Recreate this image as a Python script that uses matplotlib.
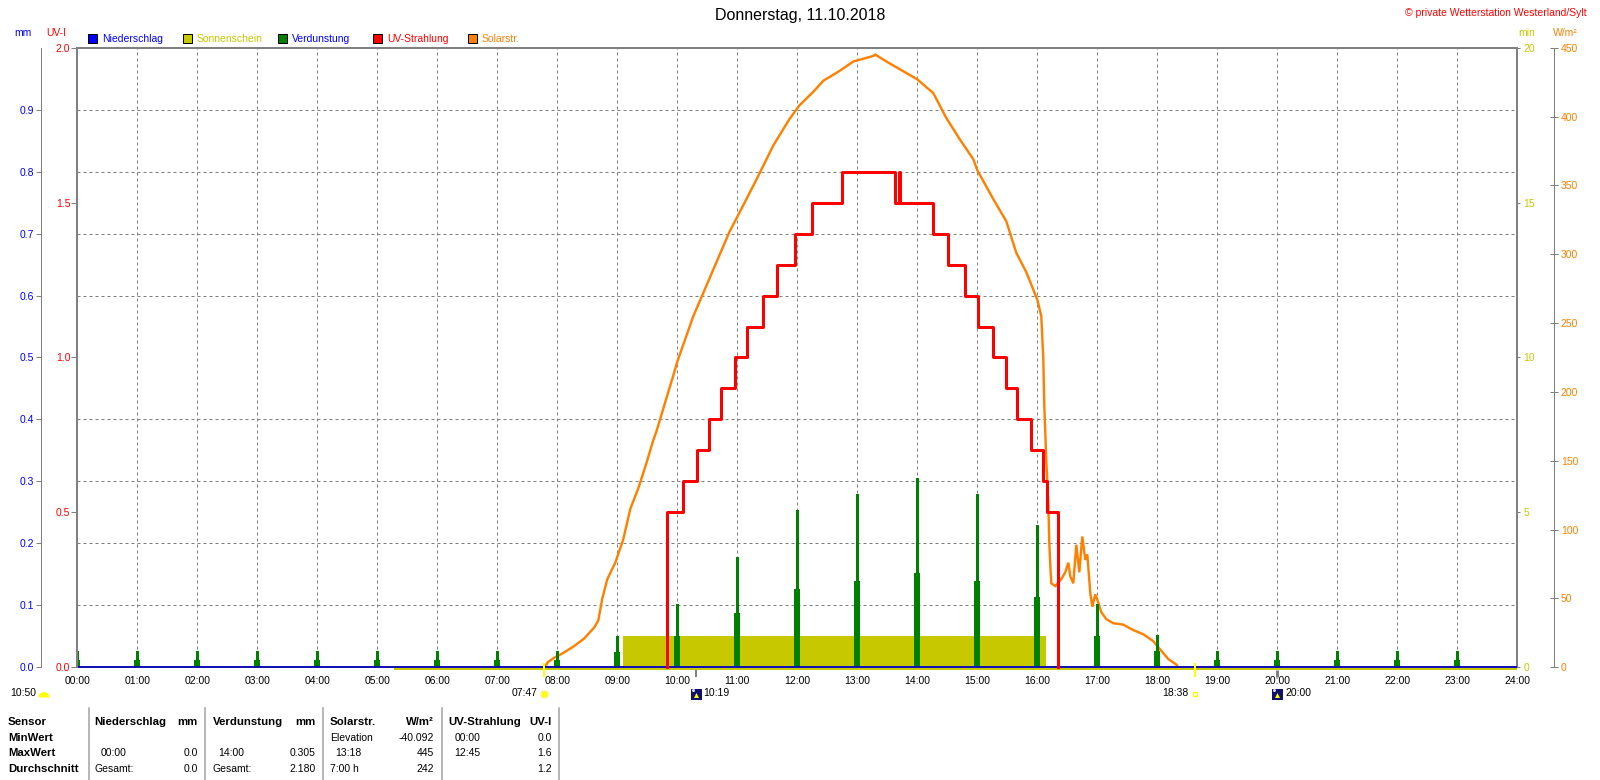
import matplotlib
matplotlib.use('Agg')
import matplotlib.pyplot as plt
import matplotlib.transforms as mtransforms
from matplotlib.patches import Rectangle, Wedge
from matplotlib.lines import Line2D
from matplotlib.ticker import MultipleLocator, FixedLocator, FormatStrFormatter

plt.rcParams['font.family'] = ['Liberation Sans', 'DejaVu Sans']

# ---------------- data ----------------
title = "Donnerstag, 11.10.2018"
copyright_text = "© private Wetterstation Westerland/Sylt"

hour_ticks = list(range(25))
hour_labels = ["%02d:00" % h for h in hour_ticks]

# Verdunstung (mm), hourly spikes: tall thin part and wider lower part
verd_hours = list(range(24))
verd_peak = [0.026, 0.026, 0.026, 0.026, 0.026, 0.026, 0.026, 0.026, 0.026, 0.051,
             0.102, 0.178, 0.254, 0.280, 0.305, 0.280, 0.229, 0.102, 0.052, 0.026,
             0.026, 0.026, 0.026, 0.026]
verd_base = [0.012, 0.012, 0.012, 0.012, 0.012, 0.012, 0.012, 0.012, 0.012, 0.025,
             0.051, 0.088, 0.126, 0.140, 0.152, 0.140, 0.114, 0.051, 0.026, 0.012,
             0.012, 0.012, 0.012, 0.012]

# Niederschlag (mm)
rain_t = ["00:00", "24:00"]
rain_v = [0.0, 0.0]

# Sonnenschein (min)
sun_line_t = ["05:17", "24:00"]
sun_line_v = [0.0, 0.0]
sun_block_start = "09:06"
sun_block_end = "16:09"
sun_block_value = 1.0

# UV-Strahlung (UV-I), step series
uv_t = ["09:50", "09:50", "10:06", "10:20", "10:32", "10:44", "10:58", "11:10", "11:26",
        "11:40", "11:58", "12:15", "12:45", "13:38", "13:42", "13:43", "14:16", "14:31",
        "14:48", "15:01", "15:16", "15:29", "15:40", "15:54", "16:06", "16:10", "16:21"]
uv_v = [0.0, 0.5, 0.6, 0.7, 0.8, 0.9, 1.0, 1.1, 1.2,
        1.3, 1.4, 1.5, 1.6, 1.5, 1.6, 1.5, 1.4, 1.3,
        1.2, 1.1, 1.0, 0.9, 0.8, 0.7, 0.6, 0.5, 0.0]

# Solarstrahlung (W/m²)
solar_t = ["07:47", "07:51", "07:57", "08:05", "08:16", "08:27", "08:37", "08:41", "08:45",
           "08:50", "08:58", "09:06", "09:13", "09:21", "09:29", "09:36", "09:39", "09:56",
           "10:00", "10:16", "10:29", "10:52", "11:02", "11:19", "11:36", "11:52", "12:02",
           "12:16", "12:26", "12:42", "12:56", "13:16", "13:18", "13:29", "13:41", "14:00",
           "14:16", "14:29", "14:42", "14:56", "15:00", "15:16", "15:29", "15:39", "15:49",
           "16:00", "16:04", "16:06", "16:07", "16:09", "16:11", "16:12", "16:13", "16:14",
           "16:18", "16:24", "16:28", "16:31", "16:33", "16:36", "16:39", "16:42", "16:45",
           "16:48", "16:50", "16:53", "16:55", "16:58", "17:01", "17:04", "17:09", "17:16",
           "17:26", "17:36", "17:46", "17:56", "18:04", "18:11", "18:19", "18:21"]
solar_v = [0, 4, 7, 10, 15, 21, 29, 34, 50,
           64, 76, 93, 115, 130, 148, 165, 171, 212,
           222, 255, 277, 316, 330, 354, 379, 398, 408,
           418, 426, 433, 440, 444, 445, 440, 435, 427,
           417, 399, 384, 369, 361, 340, 324, 301, 287,
           267, 255, 224, 190, 150, 120, 90, 74, 61,
           59, 64, 69, 76, 66, 61, 89, 69, 95,
           78, 82, 54, 44, 53, 47, 40, 35, 32,
           31, 27, 24, 19, 12, 6, 2, 0]

# astronomical events
sunrise, sunset = "07:47", "18:38"
moonrise, moonset = "10:19", "20:00"
day_length = "10:50"

legend_items = [("Niederschlag", "#0000FF", "#0000FF"),
                ("Sonnenschein", "#C8C800", "#C8C800"),
                ("Verdunstung", "#008000", "#0000FF"),
                ("UV-Strahlung", "#FF0000", "#FF0000"),
                ("Solarstr.", "#FF8000", "#FF8000")]

table_header = ["Sensor", "Niederschlag", "mm", "Verdunstung", "mm", "Solarstr.", "W/m²",
                "UV-Strahlung", "UV-I"]
table_rows = ["MinWert", "MaxWert", "Durchschnitt"]
table_rain = [("", ""), ("00:00", "0.0"), ("Gesamt:", "0.0")]
table_evap = [("", ""), ("14:00", "0.305"), ("Gesamt:", "2.180")]
table_solar = [("Elevation", "-40.092"), ("13:18", "445"), ("7:00 h", "242")]
table_uv = [("00:00", "0.0"), ("12:45", "1.6"), ("", "1.2")]


def hm(s):
    h, m = s.split(':')
    return int(h) + int(m) / 60.0


# ---------------- figure ----------------
W, H = 1600, 780
fig = plt.figure(figsize=(W / 100, H / 100), dpi=100)
fig.patch.set_facecolor('white')

L, R, T, B = 77.3, 1517.3, 47.7, 667.3
ax_min = fig.add_axes([L / W, 1 - B / H, (R - L) / W, (B - T) / H])
ax_w = ax_min.twinx()
ax_mm = ax_min.twinx()
ax_uv = ax_min.twinx()
ax_min.set_zorder(1)
ax_w.set_zorder(2)
ax_mm.set_zorder(3)
ax_uv.set_zorder(4)
for a in (ax_w, ax_mm, ax_uv):
    a.patch.set_visible(False)

GRAY = '#808080'
FS = 7.5
PX = 0.72  # points per pixel

ax_min.set_xlim(0, 24)
ax_min.set_ylim(0, 20)
ax_w.set_ylim(0, 450)
ax_mm.set_ylim(0, 1.0)
ax_uv.set_ylim(0, 2.0)

# spines
for a in (ax_min, ax_w, ax_mm, ax_uv):
    for s in a.spines.values():
        s.set_visible(False)
for k in ('right', 'bottom', 'top'):
    ax_min.spines[k].set_visible(True)
    ax_min.spines[k].set_color(GRAY)
    ax_min.spines[k].set_linewidth(2 * PX)
ax_uv.spines['left'].set_visible(True)
ax_uv.spines['left'].set_color(GRAY)
ax_uv.spines['left'].set_linewidth(2 * PX)

ax_mm.spines['left'].set_visible(True)
ax_mm.spines['left'].set_position(('outward', (L - 40.7) * PX))
ax_mm.spines['left'].set_color(GRAY)
ax_mm.spines['left'].set_linewidth(1 * PX)

ax_w.spines['right'].set_visible(True)
ax_w.spines['right'].set_position(('outward', (1554 - R) * PX))
ax_w.spines['right'].set_color(GRAY)
ax_w.spines['right'].set_linewidth(1 * PX)

# grid (on lowest axes)
ax_min.xaxis.set_major_locator(FixedLocator(hour_ticks))
ax_min.set_xticklabels(hour_labels)
ax_min.tick_params(axis='x', length=0, pad=6.5, labelsize=FS, colors='black')
ax_min.yaxis.set_minor_locator(MultipleLocator(2))
ax_min.grid(True, which='major', axis='x', color=GRAY, lw=1 * PX, linestyle=(0, (3, 3)))
ax_min.grid(True, which='minor', axis='y', color=GRAY, lw=1 * PX, linestyle=(0, (3, 3)))
ax_min.set_axisbelow(True)

# y axes ticks
ax_min.yaxis.tick_right()
ax_min.set_yticks([0, 5, 10, 15, 20])
ax_min.yaxis.set_major_formatter(FormatStrFormatter('%d'))
ax_min.tick_params(axis='y', which='major', direction='out', length=3 * PX, pad=3 * PX,
                   color=GRAY, labelcolor='#C8C800', labelsize=FS, width=1 * PX)
ax_min.tick_params(axis='y', which='minor', length=0)

ax_w.yaxis.tick_right()
ax_w.set_yticks(list(range(0, 451, 50)))
ax_w.yaxis.set_major_formatter(FormatStrFormatter('%d'))
ax_w.tick_params(axis='y', direction='inout', length=7.5 * PX, pad=3 * PX, color=GRAY,
                 labelcolor='#FF8000', labelsize=FS, width=1 * PX)

ax_mm.yaxis.tick_left()
ax_mm.set_yticks([0.0, 0.1, 0.2, 0.3, 0.4, 0.5, 0.6, 0.7, 0.8, 0.9])
ax_mm.yaxis.set_major_formatter(FormatStrFormatter('%.1f'))
ax_mm.tick_params(axis='y', direction='out', length=4.7 * PX, pad=2 * PX, color=GRAY,
                  labelcolor='#0000FF', labelsize=FS, width=1 * PX)

ax_uv.yaxis.tick_left()
ax_uv.set_yticks([0.0, 0.5, 1.0, 1.5, 2.0])
ax_uv.yaxis.set_major_formatter(FormatStrFormatter('%.1f'))
ax_uv.tick_params(axis='y', direction='out', length=6.3 * PX, pad=0.5, color=GRAY,
                  labelcolor='#FF0000', labelsize=FS, width=1 * PX)

for a in (ax_w, ax_mm, ax_uv):
    a.xaxis.set_visible(False)

# ---------------- data marks ----------------
# Sonnenschein
s0, s1 = hm(sun_block_start), hm(sun_block_end)
ax_min.bar([s0], [sun_block_value], width=[s1 - s0], align='edge', color='#C8C800',
           linewidth=0, zorder=2)
yoff = mtransforms.offset_copy(ax_min.transData, fig=fig, x=0, y=-1.9, units='dots')
ax_min.plot([hm(t) for t in sun_line_t], sun_line_v, color='#C8C800', lw=2 * PX,
            transform=yoff, clip_on=False, zorder=3, solid_capstyle='butt')

# Solarstrahlung
ax_w.plot([hm(t) for t in solar_t], solar_v, color='#FF8000', lw=2.4 * PX, zorder=3,
          solid_joinstyle='miter')

# Verdunstung
ax_mm.bar(verd_hours, verd_base, width=0.1, color='#008000', linewidth=0, zorder=2)
ax_mm.bar(verd_hours, verd_peak, width=0.055, color='#008000', linewidth=0, zorder=2)

# Niederschlag
ax_mm.plot([hm(t) for t in rain_t], rain_v, color='#0000C0', lw=1.7 * PX, clip_on=False,
           zorder=5, solid_capstyle='butt')

# UV-Strahlung
ax_uv.plot([hm(t) for t in uv_t], uv_v, color='#FF0000', lw=3 * PX, drawstyle='steps-post',
           zorder=3, clip_on=False)

# ---------------- events below axis ----------------
tr = mtransforms.blended_transform_factory(ax_uv.transData, fig.transFigure)


def fy(y):
    return 1 - y / H


for t in (sunrise, sunset):
    ax_uv.plot([hm(t), hm(t)], [fy(663), fy(677)], color='#FFFF00', lw=2 * PX,
               transform=tr, clip_on=False, zorder=10, solid_capstyle='butt')
for t, w in ((moonrise, 2), (moonset, 3)):
    ax_uv.plot([hm(t), hm(t)], [fy(669.5), fy(677)], color=GRAY, lw=w * PX,
               transform=tr, clip_on=False, zorder=10, solid_capstyle='butt')

ty = fy(692.5)
# sunrise
ax_uv.plot([hm(sunrise)], [fy(694)], marker='o', ms=7 * PX, color='#FFFF00',
           mec='#FFF080', mew=1.5 * PX, transform=tr, clip_on=False)
fig.text(538 / W, ty, sunrise, ha='right', va='center', fontsize=FS)
# moon icons
for t in (moonrise, moonset):
    ax_uv.plot([hm(t)], [fy(693.5)], marker='s', ms=11 * PX, color='#10106E', mew=0,
               transform=tr, clip_on=False)
    ax_uv.plot([hm(t)], [fy(694.5)], marker='^', ms=5 * PX, color='#FFFF00', mew=0,
               transform=tr, clip_on=False)
    ax_uv.plot([hm(t) - 0.05], [fy(690)], marker='o', ms=3 * PX, color='#E0E0FF', mew=0,
               transform=tr, clip_on=False)
fig.text(703 / W, ty, moonrise, ha='left', va='center', fontsize=FS)
fig.text(1285 / W, ty, moonset, ha='left', va='center', fontsize=FS)
# sunset
ax_uv.plot([hm(sunset)], [fy(693.5)], marker='s', ms=5 * PX, mfc='white', mec='#FFFF00',
           mew=1.3 * PX, transform=tr, clip_on=False)
fig.text(1188 / W, ty, sunset, ha='right', va='center', fontsize=FS)
# day length
fig.text(10 / W, fy(693), day_length, ha='left', va='center', fontsize=FS)
fig.patches.append(Wedge((44.0, H - 697.5), 5.5, 0, 180, facecolor='#FFFF00',
                         edgecolor='none', transform=mtransforms.IdentityTransform()))

# ---------------- header texts ----------------
fig.text(0.5, fy(15.5), title, ha='center', va='center', fontsize=11.5, color='black')
fig.text(1587 / W, fy(12.5), copyright_text, ha='right', va='center', fontsize=7.5,
         color='#FF0000')
fig.text(14 / W, fy(33.5), "mm", ha='left', va='center', fontsize=FS, color='#0000FF')
fig.text(46 / W, fy(33.5), "UV-I", ha='left', va='center', fontsize=FS, color='#FF0000')
fig.text(1518 / W, fy(33.5), "min", ha='left', va='center', fontsize=FS, color='#C8C800')
fig.text(1553 / W, fy(33.5), "W/m²", ha='left', va='center', fontsize=FS, color='#FF8000')

legend_x = [87.5, 182.5, 277.5, 372.5, 467.5]
for x0, (name, fc, tc) in zip(legend_x, legend_items):
    fig.patches.append(Rectangle((x0 / W, fy(43)), 9.3 / W, 9.3 / H, facecolor=fc,
                                 edgecolor='black', lw=1 * PX, transform=fig.transFigure))
    fig.text((x0 + 14.5) / W, fy(38.5), name, ha='left', va='center', fontsize=FS, color=tc)

# ---------------- table ----------------
row_y = [721.7, 737.7, 753.3, 769.0]
for xs in (88.6, 205, 323, 442, 559):
    fig.lines.append(Line2D([xs / W, xs / W], [fy(708), fy(780)], color='#A0A0A0',
                            lw=1.5 * PX, transform=fig.transFigure))
BFS = 8.2
hdr_pos = [(8, 'left'), (94.6, 'left'), (198, 'right'), (212.5, 'left'), (316, 'right'),
           (330, 'left'), (434, 'right'), (448, 'left'), (552, 'right')]
for (x0, ha), txt in zip(hdr_pos, table_header):
    fig.text(x0 / W, fy(row_y[0]), txt, ha=ha, va='center', fontsize=BFS, weight='bold')
for i, name in enumerate(table_rows):
    y = fy(row_y[i + 1])
    fig.text(8 / W, y, name, ha='left', va='center', fontsize=BFS, weight='bold')
    cols = [(table_rain[i], 94.6, 100.7, 198), (table_evap[i], 212.5, 218.6, 316),
            (table_solar[i], 330, 335.7, 434), (table_uv[i], 454.6, 454.6, 552)]
    for (lab, val), xg, xt, xr in cols:
        if lab:
            xl = xt if ':' in lab and not lab.endswith(':') and 'h' not in lab else xg
            fig.text(xl / W, y, lab, ha='left', va='center', fontsize=FS)
        if val:
            fig.text(xr / W, y, val, ha='right', va='center', fontsize=FS)

fig.savefig('out.png', dpi=100, facecolor='white')
